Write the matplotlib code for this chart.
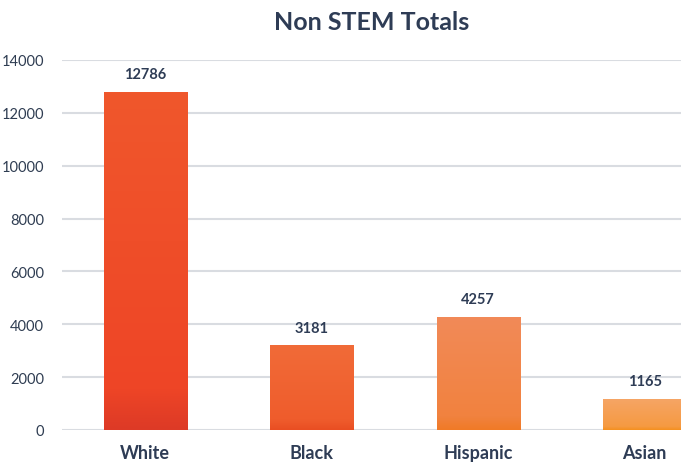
import numpy as np
import matplotlib
matplotlib.use("Agg")
import matplotlib.pyplot as plt
from matplotlib.colors import LinearSegmentedColormap

categories = ["White", "Black", "Hispanic", "Asian"]
totals = [12786, 3181, 4257, 1165]
y_ticks = [0, 2000, 4000, 6000, 8000, 10000, 12000, 14000]

# top / middle / bottom colours of each bar's vertical gradient
bar_top = ["#F0572C", "#F16B38", "#F28A58", "#F6A565"]
bar_mid = ["#EE4526", "#EF5C2C", "#F1823F", "#F59A42"]
bar_bottom = ["#DD3A26", "#E94E22", "#F07A26", "#F5901E"]

plt.rcParams["font.family"] = ["Lato", "DejaVu Sans"]
text_color = "#2E3C55"

fig = plt.figure(figsize=(6.81, 4.64), dpi=100)
# plot area runs past the right edge of the canvas
left_px, right_px, bottom_px, top_px = 62, 728, 431, 61
W, H = 681, 464
ax = fig.add_axes([left_px / W, 1 - bottom_px / H,
                   (right_px - left_px) / W, (bottom_px - top_px) / H])

x = np.arange(len(categories))
bars = ax.bar(x, totals, width=0.5, color="none", zorder=3)

grad = np.linspace(0, 1, 256).reshape(-1, 1)
for b, c_top, c_mid, c_bot in zip(bars, bar_top, bar_mid, bar_bottom):
    cmap = LinearSegmentedColormap.from_list(
        "g", [(0.0, c_bot), (0.12, c_mid), (1.0, c_top)])
    x0, y0 = b.get_x(), b.get_y()
    ax.imshow(grad, cmap=cmap, aspect="auto", origin="lower",
              extent=[x0, x0 + b.get_width(), y0, y0 + b.get_height()],
              zorder=3)

for xi, v in zip(x, totals):
    ax.annotate(f"{v}", (xi, v), xytext=(0, 8), textcoords="offset points",
                ha="center", va="bottom", fontsize=10.5, fontweight="bold",
                color=text_color)

ax.set_xlim(-0.5, len(categories) - 0.5)
ax.set_ylim(0, 14000)
ax.set_yticks(y_ticks)
ax.set_yticklabels([str(t) for t in y_ticks], fontsize=10.5, color="#2F3D52")
ax.set_xticks(x)
ax.set_xticklabels(categories, fontsize=13, fontweight="bold", color=text_color)
ax.tick_params(axis="both", length=0)
ax.tick_params(axis="y", pad=13)
ax.tick_params(axis="x", pad=10)
ax.grid(axis="y", color="#D9DCE1", linewidth=1.5, zorder=0)
ax.set_axisbelow(True)
for s in ax.spines.values():
    s.set_visible(False)

fig.text(372 / W, 1 - 22 / H, "Non STEM Totals", ha="center", va="center",
         fontsize=18, fontweight="bold", color=text_color)

fig.savefig("out.png", dpi=100)
